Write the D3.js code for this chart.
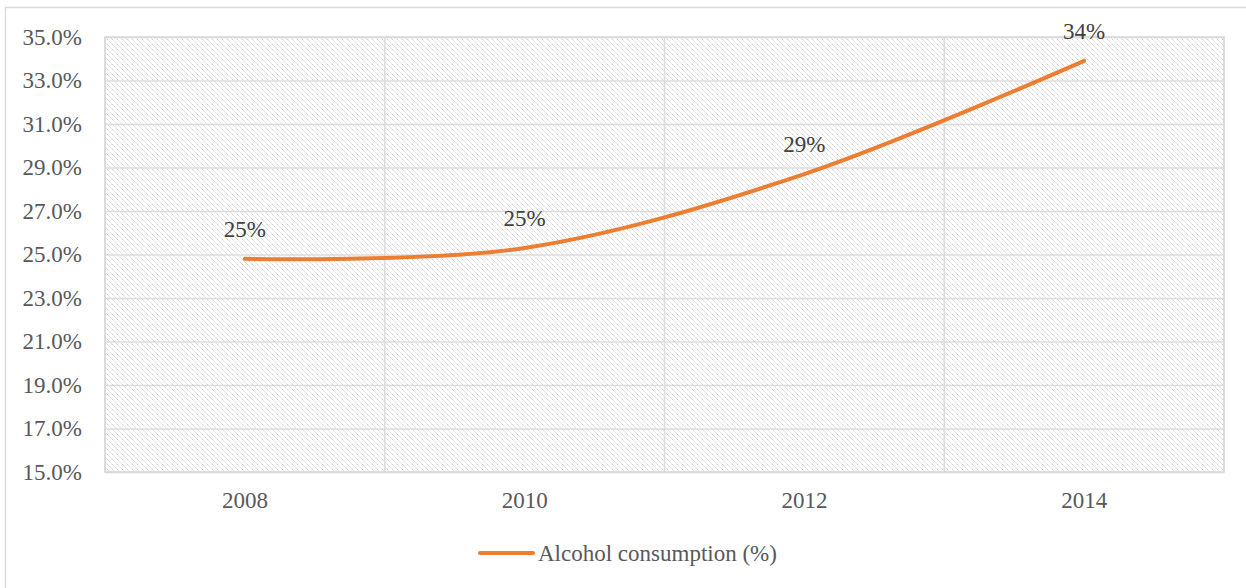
<!DOCTYPE html>
<html>
<head>
<meta charset="utf-8">
<script src="https://cdn.jsdelivr.net/npm/d3@7"></script>
<style>
  html, body { margin: 0; padding: 0; background: #ffffff; }
  svg { display: block; }
  text { font-family: "Liberation Serif", "Times New Roman", serif; }
</style>
</head>
<body>
<svg id="chart" width="1246" height="588"></svg>
<script>
// Survey years and share of respondents reporting alcohol consumption
const years = ["2008", "2010", "2012", "2014"];
const consumption = [24.8, 25.3, 28.7, 33.9];
const valueLabels = ["25%", "25%", "29%", "34%"];
const yTicks = [15, 17, 19, 21, 23, 25, 27, 29, 31, 33, 35];
const seriesName = "Alcohol consumption (%)";

const W = 1246, H = 588;
const margin = { left: 105, right: 22, top: 37, bottom: 116 };
const plotW = W - margin.left - margin.right;
const plotH = H - margin.top - margin.bottom;
const fontSize = "23px";

const svg = d3.select("#chart");

// chart frame
svg.append("rect")
  .attr("x", 5.5).attr("y", 7.5)
  .attr("width", 1260).attr("height", 600)
  .attr("fill", "#ffffff")
  .attr("stroke", "#d9d9d9").attr("stroke-width", 1.5);

// diagonal hatch used for the plot background
const defs = svg.append("defs");
const pat = defs.append("pattern")
  .attr("id", "hatch")
  .attr("patternUnits", "userSpaceOnUse")
  .attr("width", 5).attr("height", 5);
pat.append("rect").attr("width", 5).attr("height", 5).attr("fill", "#ffffff");
pat.append("path")
  .attr("d", "M-1,-1 L6,6 M-1,4 L1,6 M4,-1 L6,1")
  .attr("stroke", "#c9c9c9").attr("stroke-width", 1)
  .attr("stroke-dasharray", "1.4,0.7");

const g = svg.append("g").attr("transform", `translate(${margin.left},${margin.top})`);

const x = d3.scaleBand().domain(years).range([0, plotW]).padding(0);
const y = d3.scaleLinear().domain([15, 35]).range([plotH, 0]);

g.append("rect")
  .attr("width", plotW).attr("height", plotH)
  .attr("fill", "url(#hatch)");

// horizontal gridlines
g.append("g")
  .call(d3.axisLeft(y).tickValues(yTicks).tickSize(-plotW).tickFormat(""))
  .call(a => a.select(".domain").remove())
  .call(a => a.selectAll("line").attr("stroke", "#dcdcdc").attr("stroke-width", 1.6));

// vertical gridlines at category boundaries
const bounds = years.map(d => x(d)).concat([plotW]);
g.append("g").selectAll("line").data(bounds).join("line")
  .attr("x1", d => d).attr("x2", d => d)
  .attr("y1", 0).attr("y2", plotH)
  .attr("stroke", "#dcdcdc").attr("stroke-width", 1.6);

// plot border
g.append("rect")
  .attr("width", plotW).attr("height", plotH)
  .attr("fill", "none").attr("stroke", "#d9d9d9").attr("stroke-width", 1.6);

// y axis labels
g.append("g")
  .call(d3.axisLeft(y).tickValues(yTicks).tickSize(0).tickPadding(23)
    .tickFormat(d => d3.format(".1f")(d) + "%"))
  .call(a => a.select(".domain").remove())
  .call(a => a.selectAll("text")
    .attr("fill", "#595959").style("font-size", fontSize)
    .style("font-family", "Liberation Serif, Times New Roman, serif"));

// x axis labels
g.append("g")
  .attr("transform", `translate(0,${plotH})`)
  .call(d3.axisBottom(x).tickSize(0).tickPadding(20))
  .call(a => a.select(".domain").remove())
  .call(a => a.selectAll("text")
    .attr("fill", "#595959").style("font-size", fontSize)
    .style("font-family", "Liberation Serif, Times New Roman, serif"));

const cx = d => x(d) + x.bandwidth() / 2;
const pts = years.map((d, i) => [cx(d), y(consumption[i])]);

// smoothed series line
g.append("path")
  .datum(pts)
  .attr("d", d3.line().curve(d3.curveCardinal.tension(0)))
  .attr("fill", "none")
  .attr("stroke", "#ED7D31").attr("stroke-width", 4)
  .attr("stroke-linecap", "round");

// value labels above each point
g.append("g").selectAll("text").data(pts).join("text")
  .attr("x", d => d[0])
  .attr("y", d => d[1] - 22)
  .attr("text-anchor", "middle")
  .attr("fill", "#404040")
  .style("font-size", fontSize)
  .text((d, i) => valueLabels[i]);

// legend
const lg = svg.append("g").attr("transform", "translate(480,553)");
lg.append("line")
  .attr("x1", 0).attr("x2", 53).attr("y1", 0).attr("y2", 0)
  .attr("stroke", "#ED7D31").attr("stroke-width", 4)
  .attr("stroke-linecap", "round");
lg.append("text")
  .attr("x", 58).attr("y", 8)
  .attr("fill", "#595959")
  .style("font-size", fontSize)
  .text(seriesName);
</script>
</body>
</html>
